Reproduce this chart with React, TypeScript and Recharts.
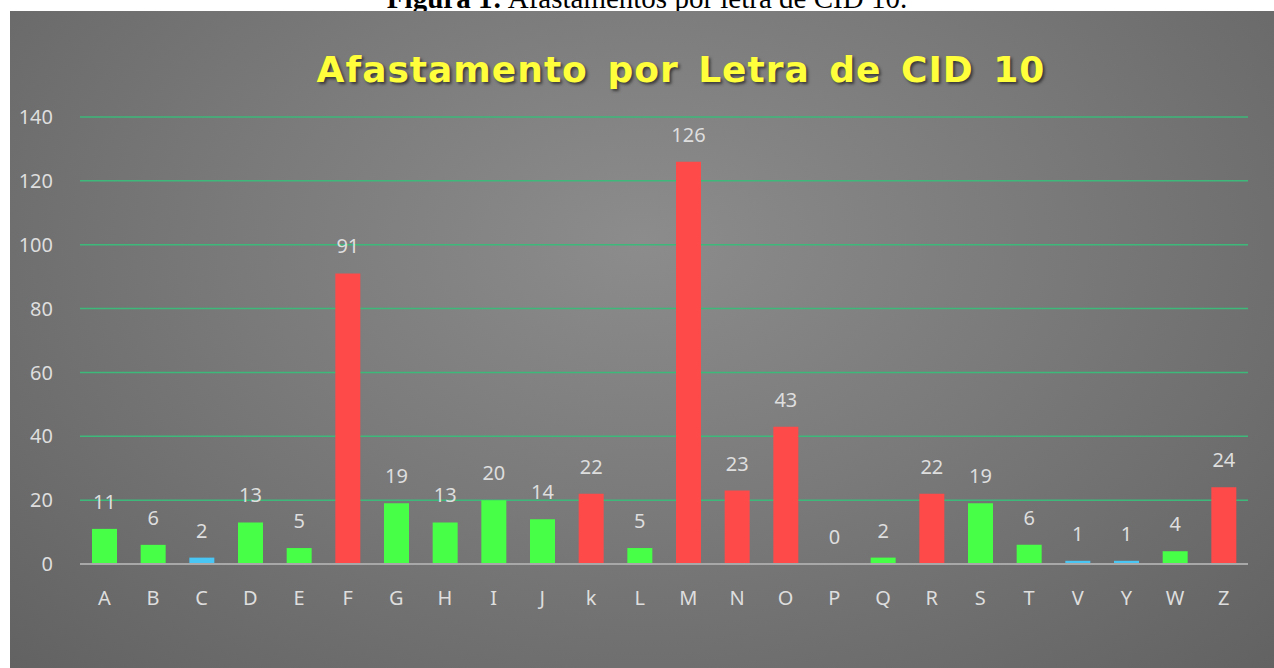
import React from 'react';
import { BarChart, Bar, XAxis, YAxis, CartesianGrid, LabelList, Cell } from 'recharts';

const LETTERS = ['A', 'B', 'C', 'D', 'E', 'F', 'G', 'H', 'I', 'J', 'k', 'L', 'M', 'N', 'O', 'P', 'Q', 'R', 'S', 'T', 'V', 'Y', 'W', 'Z'];
const AFASTAMENTOS = [11, 6, 2, 13, 5, 91, 19, 13, 20, 14, 22, 5, 126, 23, 43, 0, 2, 22, 19, 6, 1, 1, 4, 24];
// grupo de cor de cada letra: v = verde, r = vermelho, a = azul
const GRUPOS = ['v', 'v', 'a', 'v', 'v', 'r', 'v', 'v', 'v', 'v', 'r', 'v', 'r', 'r', 'r', 'v', 'v', 'r', 'v', 'v', 'a', 'a', 'v', 'r'];
const Y_TICKS = [0, 20, 40, 60, 80, 100, 120, 140];

const CORES: Record<string, string> = { v: '#46ff46', r: '#ff4a4a', a: '#4ac6f5' };

const data = LETTERS.map((letra, i) => ({ letra, valor: AFASTAMENTOS[i], grupo: GRUPOS[i] }));

const txt = '#dedede';
const font = '"Noto Sans", "Liberation Sans", sans-serif';

export default function App() {
  return (
    <div style={{ position: 'fixed', left: 0, top: 0, width: 1274, height: 668, background: '#fff', overflow: 'hidden' }}>
      <div
        style={{
          position: 'absolute', top: -16, left: 10, width: 1274, textAlign: 'center', lineHeight: '29px',
          fontFamily: '"Liberation Serif", "Times New Roman", serif', fontSize: 29, color: '#000',
        }}
      >
        <b>Figura 1:</b> Afastamentos por letra de CID 10.
      </div>
      <div
        style={{
          position: 'absolute', left: 10, top: 11, width: 1264, height: 657,
          background: 'radial-gradient(ellipse at 50% 35%, #8c8c8c 0%, #7a7a7a 45%, #626262 100%)',
        }}
      />
      <div
        style={{
          position: 'absolute', top: 49, left: 0, width: 1362, textAlign: 'center',
          fontFamily: '"DejaVu Sans", sans-serif', fontWeight: 'bold', fontSize: 36, color: '#ffff3c',
          letterSpacing: 1, wordSpacing: 6, textShadow: '2px 2px 3px rgba(0,0,0,0.55)',
        }}
      >
        Afastamento por Letra de CID 10
      </div>
      <div style={{ position: 'absolute', left: 0, top: 0 }}>
        <BarChart width={1274} height={668} data={data} margin={{ top: 117, right: 26, bottom: 64, left: 0 }} barSize={25}>
          <CartesianGrid horizontal vertical={false} stroke="#3dba7a" strokeWidth={1.5} />
          <XAxis
            dataKey="letra"
            height={40}
            axisLine={{ stroke: '#a8a8a8', strokeWidth: 2 }}
            tickLine={false}
            tickSize={0}
            tickMargin={27}
            interval={0}
            tick={{ fill: txt, fontSize: 20, fontFamily: font }}
          />
          <YAxis
            width={80}
            domain={[0, 140]}
            ticks={Y_TICKS}
            axisLine={false}
            tickLine={false}
            tickSize={0}
            tickMargin={27}
            tick={{ fill: txt, fontSize: 20, fontFamily: font }}
          />
          <Bar dataKey="valor" isAnimationActive={false} minPointSize={0.01}>
            {data.map((d, i) => (
              <Cell key={`c-${i}`} fill={CORES[d.grupo]} />
            ))}
            <LabelList
              dataKey="valor"
              position="top"
              offset={20}
              fill={txt}
              fontSize={20}
              fontFamily={font}
              formatter={(v: any) => `${v}`}
            />
          </Bar>
        </BarChart>
      </div>
    </div>
  );
}
